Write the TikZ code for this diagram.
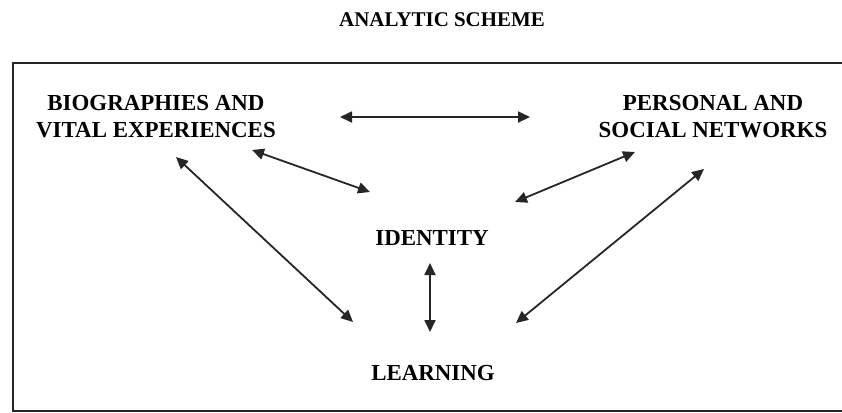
\documentclass[tikz,border=0pt]{standalone}
\usepackage{fontspec}
\setmainfont{Liberation Serif}
\usetikzlibrary{arrows.meta}
\begin{document}
\begin{tikzpicture}[x=1bp,y=-1bp,
  lbl/.style={font=\bfseries\fontsize{23}{27}\selectfont, align=center, inner sep=0pt},
  arr/.style={{Triangle[length=12bp,width=11bp]}-{Triangle[length=12bp,width=11bp]}, line width=1.8bp, black!85}]
\useasboundingbox (0,0) rectangle (842,412);
\draw[line width=2bp, black!85] (842,63) -- (13,63) -- (13,411) -- (842,411);
\node[lbl, font=\bfseries\fontsize{21}{25}\selectfont] (title) at (442,20) {ANALYTIC SCHEME};
\node[lbl] (bio) at (156,117) {BIOGRAPHIES AND\\VITAL EXPERIENCES};
\node[lbl] (pn) at (713,117) {PERSONAL AND\\SOCIAL NETWORKS};
\node[lbl] (id) at (432,238) {IDENTITY};
\node[lbl] (learn) at (433,373) {LEARNING};
\coordinate (h1) at (340,117);
\coordinate (h2) at (530,117);
\coordinate (bi1) at (252,150);
\coordinate (bi2) at (370,192);
\coordinate (pi1) at (515,202);
\coordinate (pi2) at (635,152);
\coordinate (bl1) at (176,157);
\coordinate (bl2) at (353,322);
\coordinate (pl1) at (516,323);
\coordinate (pl2) at (704,169);
\coordinate (il1) at (430,263);
\coordinate (il2) at (430,332);
\draw[arr] (h1) -- (h2);
\draw[arr] (bi1) -- (bi2);
\draw[arr] (pi1) -- (pi2);
\draw[arr] (bl1) -- (bl2);
\draw[arr] (pl1) -- (pl2);
\draw[arr] (il1) -- (il2);
\end{tikzpicture}
\end{document}
